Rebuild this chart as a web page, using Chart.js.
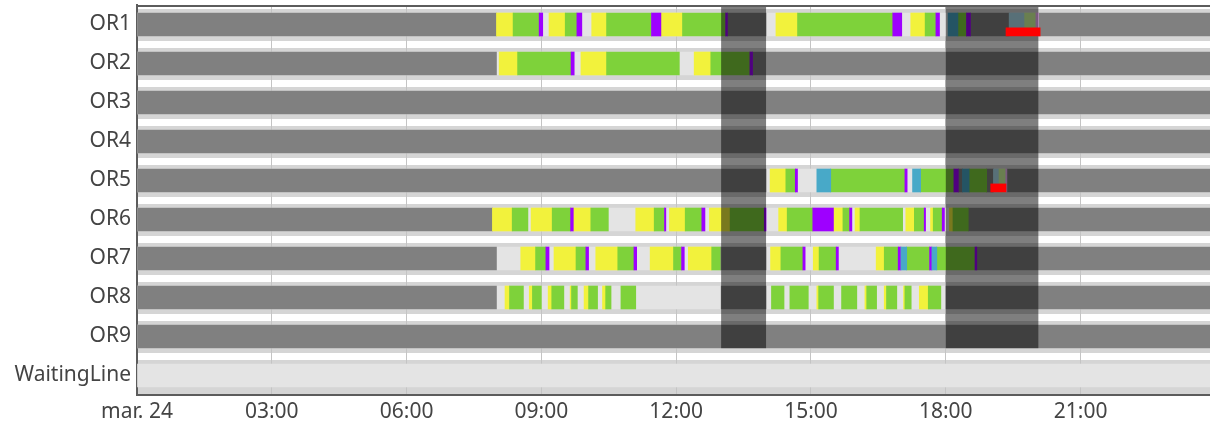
<!DOCTYPE html>
<html>
<head>
<meta charset="utf-8">
<script src="https://cdn.jsdelivr.net/npm/chart.js@4.4.1/dist/chart.umd.min.js"></script>
<style>
  html, body { margin: 0; padding: 0; background: #fff; }
  #wrap { width: 1210px; height: 426px; }
</style>
</head>
<body>
<div id="wrap"><canvas id="planning" width="1210" height="426"></canvas></div>
<script>
// salles (axe vertical)
var rooms = ['OR1', 'OR2', 'OR3', 'OR4', 'OR5', 'OR6', 'OR7', 'OR8', 'OR9', 'WaitingLine'];

// axe du temps, en heures depuis minuit
var hourTicks = [0, 3, 6, 9, 12, 15, 18, 21];
var hourLabels = ['mar. 24', '03:00', '06:00', '09:00', '12:00', '15:00', '18:00', '21:00'];
var dayStart = 0;
var dayEnd = 23.88;

// créneaux [salle, début, fin]
var closedSlots = [
    ['OR1', 0, 8.0], ['OR1', 13.14, 14.0], ['OR1', 18.55, 19.41], ['OR1', 20.06, 24],
    ['OR2', 0, 8.0], ['OR2', 13.7, 24],
    ['OR3', 0, 24],
    ['OR4', 0, 24],
    ['OR5', 0, 14.0], ['OR5', 18.28, 18.37], ['OR5', 18.91, 19.06], ['OR5', 19.36, 24],
    ['OR6', 0, 7.91], ['OR6', 18.5, 24],
    ['OR7', 0, 8.0], ['OR7', 12.98, 14.0], ['OR7', 18.69, 24],
    ['OR8', 0, 8.0], ['OR8', 13.0, 14.0], ['OR8', 18.0, 24],
    ['OR9', 0, 24]
];

var prepSlots = [
    ['OR1', 8.0, 8.37], ['OR1', 9.17, 9.53], ['OR1', 10.12, 10.45], ['OR1', 11.66, 12.14], ['OR1', 14.22, 14.7], ['OR1', 17.22, 17.54],
    ['OR2', 8.06, 8.47], ['OR2', 9.88, 10.45], ['OR2', 12.4, 12.77],
    ['OR5', 14.09, 14.44],
    ['OR6', 7.91, 8.35], ['OR6', 8.77, 9.24], ['OR6', 9.71, 10.1], ['OR6', 11.1, 11.51], ['OR6', 11.85, 12.2], ['OR6', 12.74, 13.2],
    ['OR6', 14.28, 14.47], ['OR6', 15.5, 15.71], ['OR6', 15.98, 16.09], ['OR6', 17.11, 17.3], ['OR6', 17.66, 17.72], ['OR6', 18.08, 18.16],
    ['OR7', 8.54, 8.87], ['OR7', 9.28, 9.77], ['OR7', 10.21, 10.7], ['OR7', 11.42, 11.94], ['OR7', 12.27, 12.79],
    ['OR7', 14.1, 14.33], ['OR7', 15.05, 15.18], ['OR7', 16.45, 16.63],
    ['OR8', 8.19, 8.29], ['OR8', 8.73, 8.8], ['OR8', 9.15, 9.23], ['OR8', 9.64, 9.67], ['OR8', 9.95, 10.05], ['OR8', 10.36, 10.43],
    ['OR8', 15.13, 15.17], ['OR8', 16.2, 16.24], ['OR8', 16.63, 16.68], ['OR8', 17.06, 17.09], ['OR8', 17.41, 17.61]
];

var surgerySlots = [
    ['OR1', 8.37, 8.95], ['OR1', 9.53, 9.79], ['OR1', 10.45, 11.45], ['OR1', 12.14, 13.1], ['OR1', 14.7, 16.82], ['OR1', 17.54, 17.78], ['OR1', 18.27, 18.46],
    ['OR2', 8.47, 9.66], ['OR2', 10.45, 12.07], ['OR2', 12.77, 13.64],
    ['OR5', 14.44, 14.65], ['OR5', 15.44, 17.09], ['OR5', 17.44, 18.18], ['OR5', 18.52, 18.91],
    ['OR6', 8.35, 8.7], ['OR6', 9.24, 9.65], ['OR6', 10.1, 10.49], ['OR6', 11.51, 11.74], ['OR6', 12.2, 12.57], ['OR6', 13.2, 13.96],
    ['OR6', 14.47, 15.04], ['OR6', 15.71, 15.86], ['OR6', 16.09, 17.04], ['OR6', 17.3, 17.52], ['OR6', 17.72, 17.92], ['OR6', 18.16, 18.5],
    ['OR7', 8.87, 9.1], ['OR7', 9.77, 9.99], ['OR7', 10.7, 11.06], ['OR7', 11.94, 12.12], ['OR7', 12.79, 12.98],
    ['OR7', 14.33, 14.82], ['OR7', 15.18, 15.56], ['OR7', 16.63, 16.94], ['OR7', 17.13, 17.64], ['OR7', 17.8, 18.65],
    ['OR8', 8.29, 8.6], ['OR8', 8.8, 9.0], ['OR8', 9.23, 9.5], ['OR8', 9.67, 9.8], ['OR8', 10.05, 10.25], ['OR8', 10.43, 10.55], ['OR8', 10.77, 11.1],
    ['OR8', 14.12, 14.4], ['OR8', 14.53, 14.94], ['OR8', 15.17, 15.5], ['OR8', 15.68, 16.02], ['OR8', 16.24, 16.46], ['OR8', 16.68, 16.91],
    ['OR8', 17.09, 17.23], ['OR8', 17.61, 17.89]
];

var cleaningSlots = [
    ['OR1', 8.95, 9.03], ['OR1', 9.79, 9.9], ['OR1', 11.45, 11.66], ['OR1', 13.1, 13.14], ['OR1', 16.82, 17.02], ['OR1', 17.78, 17.86], ['OR1', 18.46, 18.55],
    ['OR2', 9.66, 9.73], ['OR2', 13.64, 13.7],
    ['OR5', 14.65, 14.7], ['OR5', 17.09, 17.14], ['OR5', 18.18, 18.28],
    ['OR6', 9.65, 9.71], ['OR6', 11.74, 11.77], ['OR6', 12.57, 12.64], ['OR6', 13.96, 14.0], ['OR6', 15.04, 15.5], ['OR6', 15.86, 15.91],
    ['OR6', 17.52, 17.55], ['OR6', 17.92, 17.97],
    ['OR7', 9.1, 9.17], ['OR7', 9.99, 10.05], ['OR7', 11.06, 11.12], ['OR7', 12.12, 12.18], ['OR7', 14.82, 14.87], ['OR7', 15.56, 15.61],
    ['OR7', 16.94, 17.0], ['OR7', 17.64, 17.69], ['OR7', 18.65, 18.69]
];

var emergencySlots = [
    ['OR1', 18.05, 18.27],
    ['OR5', 15.13, 15.44], ['OR5', 17.26, 17.44], ['OR5', 18.37, 18.52],
    ['OR7', 17.0, 17.13], ['OR7', 17.69, 17.8]
];

// créneaux prévus (pas encore commencés)
var plannedEmergency = [['OR1', 19.41, 19.74], ['OR5', 19.06, 19.17]];
var plannedSurgery = [['OR1', 19.74, 19.99], ['OR5', 19.17, 19.32]];
var plannedCleaning = [['OR1', 19.99, 20.06], ['OR5', 19.32, 19.36]];

// retards
var delaySlots = [['OR1', 19.34, 20.1], ['OR5', 19.0, 19.34]];

// périodes grisées (pauses)
var shadeFrom = [13, 18];
var shadeTo = [14, 20.06];
var shadeRooms = ['OR1', 'OR9'];

var laneSpan = [0, 24];

var BAR = 23;
var markerShift = 0.19;

function toBars(slots, shift) {
    return slots.map(function (s) {
        return { x: [s[1], s[2]], y: rooms.indexOf(s[0]) + (shift || 0) };
    });
}

function barSet(label, slots, color, thickness, shift) {
    return {
        label: label,
        data: toBars(slots, shift),
        backgroundColor: color,
        borderWidth: 0,
        borderSkipped: false,
        barThickness: thickness || BAR
    };
}

// fond rayé entre les lignes
const stripes = {
    id: 'stripes',
    beforeDraw: function (chart) {
        const { ctx, chartArea: { left, top, right, bottom }, scales: { y } } = chart;
        ctx.save();
        ctx.fillStyle = '#d5d5d5';
        ctx.fillRect(left, top, right - left, bottom - top);
        ctx.fillStyle = '#ffffff';
        for (var i = 0; i < rooms.length; i++) {
            var p = y.getPixelForValue(i - 0.5);
            var t = Math.max(top, p - 3);
            ctx.fillRect(left, t, right - left, p + 4 - t);
        }
        ctx.restore();
    },
    afterDraw: function (chart) {
        const { ctx, chartArea: { left, top, right } } = chart;
        ctx.save();
        ctx.strokeStyle = '#5c5c5c';
        ctx.lineWidth = 2;
        ctx.beginPath();
        ctx.moveTo(left, top + 1);
        ctx.lineTo(right, top + 1);
        ctx.stroke();
        ctx.restore();
    }
};

// voile sombre, dessiné juste avant les retards
const shading = {
    id: 'shading',
    beforeDatasetDraw: function (chart, args) {
        if (chart.data.datasets[args.index].label !== 'Retard') return;
        const { ctx, scales: { x, y } } = chart;
        var y0 = y.getPixelForValue(rooms.indexOf(shadeRooms[0]) - 0.45);
        var y1 = y.getPixelForValue(rooms.indexOf(shadeRooms[1]) + 0.3);
        ctx.save();
        ctx.fillStyle = 'rgba(0, 0, 0, 0.5)';
        for (var i = 0; i < shadeFrom.length; i++) {
            var x0 = x.getPixelForValue(shadeFrom[i]);
            var x1 = x.getPixelForValue(shadeTo[i]);
            ctx.fillRect(x0, y0, x1 - x0, y1 - y0);
        }
        ctx.restore();
    }
};

var lanes = rooms.map(function (r) { return [r, laneSpan[0], laneSpan[1]]; });

// l'ordre compte : le premier jeu est dessiné en dernier
var datasets = [
    barSet('Retard', delaySlots, '#ff0000', 8, markerShift),
    barSet('Urgence prévue', plannedEmergency, '#b0e0f0'),
    barSet('Intervention prévue', plannedSurgery, '#d4ffa0'),
    barSet('Nettoyage prévu', plannedCleaning, '#f4b4ff'),
    barSet('Urgence', emergencySlots, '#48a9c8'),
    barSet('Nettoyage', cleaningSlots, '#9e00ff'),
    barSet('Intervention', surgerySlots, '#7ed23a'),
    barSet('Préparation', prepSlots, '#f2f23c'),
    barSet('Fermé', closedSlots, '#808080'),
    barSet('Libre', lanes, '#e4e4e4')
];

var chart = new Chart(document.getElementById('planning'), {
    type: 'bar',
    data: { datasets: datasets },
    options: {
        indexAxis: 'y',
        responsive: false,
        animation: false,
        layout: { padding: { top: 5, right: 0, bottom: 0, left: 0 } },
        datasets: { bar: { grouped: false } },
        plugins: {
            legend: { display: false },
            tooltip: { enabled: false }
        },
        scales: {
            x: {
                type: 'linear',
                min: dayStart,
                max: dayEnd,
                afterFit: function (s) { s.height = 31; },
                ticks: {
                    stepSize: 3,
                    includeBounds: false,
                    maxRotation: 0,
                    autoSkip: false,
                    padding: 4,
                    color: '#444',
                    font: { family: 'Noto Sans', size: 21 },
                    callback: function (v) {
                        var i = hourTicks.indexOf(v);
                        return i >= 0 ? hourLabels[i] : '';
                    }
                },
                grid: { color: '#c4c4c4', lineWidth: 1, drawTicks: false },
                border: { display: true, color: '#5c5c5c', width: 2 }
            },
            y: {
                type: 'linear',
                offset: false,
                reverse: true,
                min: -0.5,
                max: rooms.length - 0.5,
                afterFit: function (s) {
                    s.width = 137;
                    s.paddingTop = 0;
                    s.paddingBottom = 0;
                },
                afterBuildTicks: function (s) {
                    s.ticks = rooms.map(function (r, i) { return { value: i }; });
                },
                ticks: {
                    padding: 6,
                    color: '#444',
                    font: { family: 'Noto Sans', size: 21 },
                    callback: function (v) { return rooms[v]; }
                },
                grid: { display: false, drawTicks: false, offset: false },
                border: { display: true, color: '#5c5c5c', width: 2 }
            }
        }
    },
    plugins: [stripes, shading]
});
</script>
</body>
</html>
